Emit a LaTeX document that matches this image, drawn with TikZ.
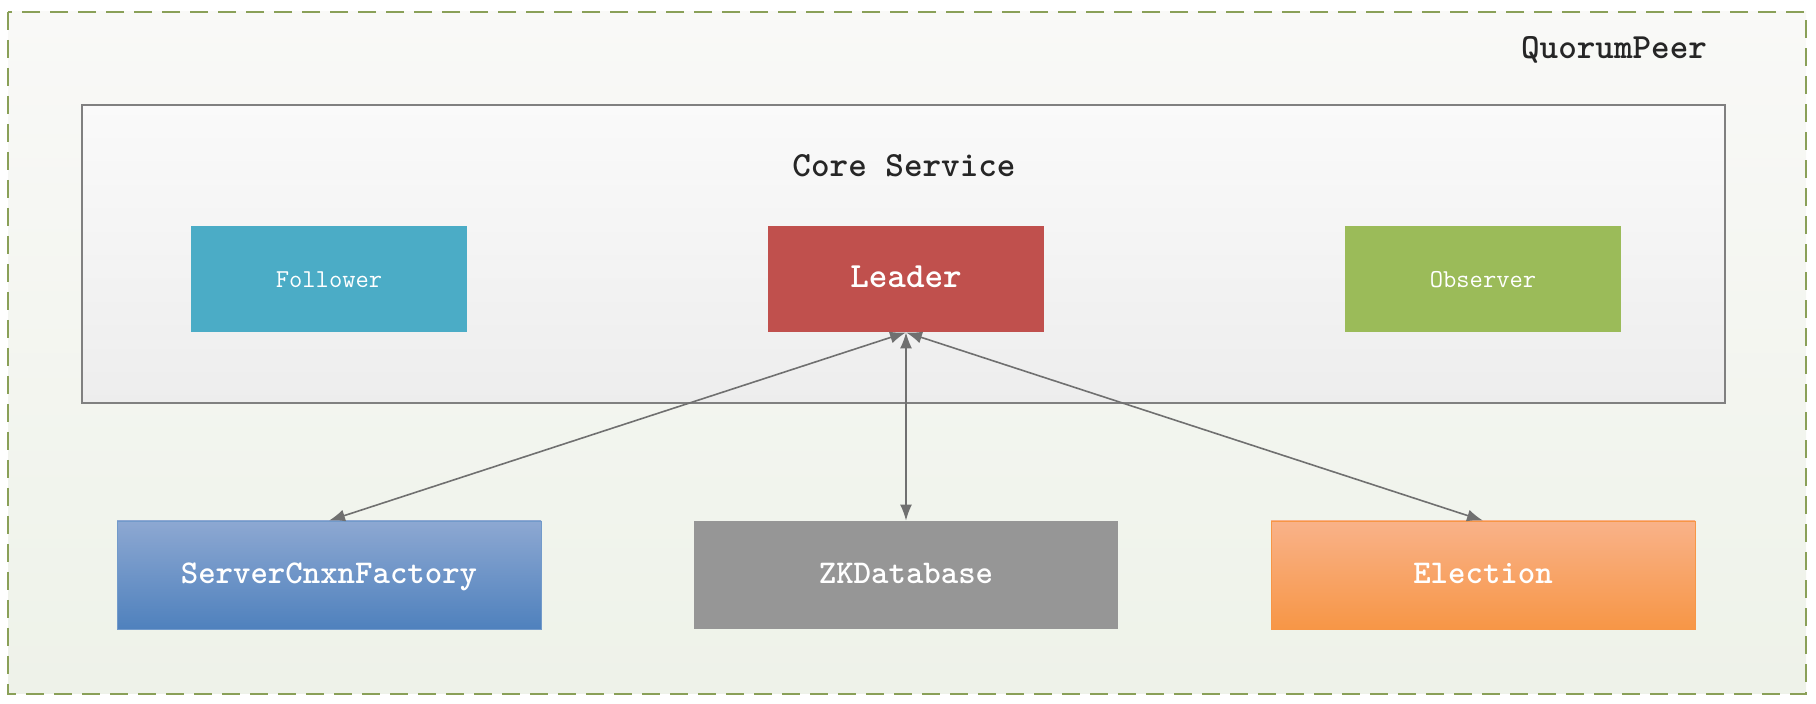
\documentclass[tikz,border=0pt]{standalone}
\usepackage{tikz}
\usetikzlibrary{arrows.meta}

\definecolor{peerline}{RGB}{138,160,88}
\definecolor{peertop}{RGB}{249,249,247}
\definecolor{peerbottom}{RGB}{238,242,233}
\definecolor{coreline}{RGB}{128,128,128}
\definecolor{followerfill}{RGB}{75,172,198}
\definecolor{leaderfill}{RGB}{192,80,77}
\definecolor{observerfill}{RGB}{155,187,89}
\definecolor{cnxntop}{RGB}{141,168,210}
\definecolor{cnxnbottom}{RGB}{79,129,189}
\definecolor{zkfill}{RGB}{150,150,150}
\definecolor{electtop}{RGB}{249,178,137}
\definecolor{electbottom}{RGB}{247,150,70}
\definecolor{linkgray}{RGB}{112,112,112}
\definecolor{titletext}{RGB}{38,38,38}

\begin{document}
\begin{tikzpicture}[x=0.5pt, y=-0.5pt, >={Latex[length=8pt,width=6pt]},
    role/.style={rectangle, inner sep=0pt, minimum width=138pt, minimum height=53pt,
        text height=0.85em, text depth=0pt,
        text=white, font=\ttfamily\fontsize{12.9}{15}\selectfont},
    part/.style={rectangle, inner sep=0pt, minimum width=212pt, minimum height=54pt,
        text height=0.85em, text depth=0pt,
        text=white, font=\ttfamily\bfseries\fontsize{16.6}{19}\selectfont},
    link/.style={<->, draw=linkgray, line width=0.8pt}]
        \useasboundingbox (0,0) rectangle (1816,704);

        % Define node styles
        \draw [peerline, dashed, dash pattern=on 9pt off 5pt, line width=1pt,
            top color=peertop, bottom color=peerbottom] (8,12) rectangle (1806,694);
        \node [anchor=east, text=titletext, font=\ttfamily\bfseries\fontsize{17.7}{20}\selectfont]
            (peer) at (1714,50) {QuorumPeer};

        \draw [coreline, line width=0.75pt, top color=white!98!black, bottom color=white!93!black]
            (82,105) rectangle (1725,403);
        \node [text=titletext, font=\ttfamily\bfseries\fontsize{17.7}{20}\selectfont]
            (core) at (904,166) {Core Service};

        \node [role, fill=followerfill] (follower) at (329,279) {Follower};
        \node [role, fill=leaderfill, font=\ttfamily\bfseries\fontsize{17.7}{20}\selectfont]
            (leader) at (906,279) {Leader};
        \node [role, fill=observerfill] (observer) at (1483,279) {Observer};

        \node [part, draw=cnxnbottom!80!white, top color=cnxntop, bottom color=cnxnbottom]
            (cnxn) at (329,575) {ServerCnxnFactory};
        \node [part, fill=zkfill] (zkdb) at (906,575) {ZKDatabase};
        \node [part, draw=electbottom, top color=electtop, bottom color=electbottom]
            (election) at (1483,575) {Election};

        % Draw edges with arrowheads
        \draw [link] (leader.south) -- (cnxn.north);
        \draw [link] (leader.south) -- (zkdb.north);
        \draw [link] (leader.south) -- (election.north);
    \end{tikzpicture}
\end{document}
